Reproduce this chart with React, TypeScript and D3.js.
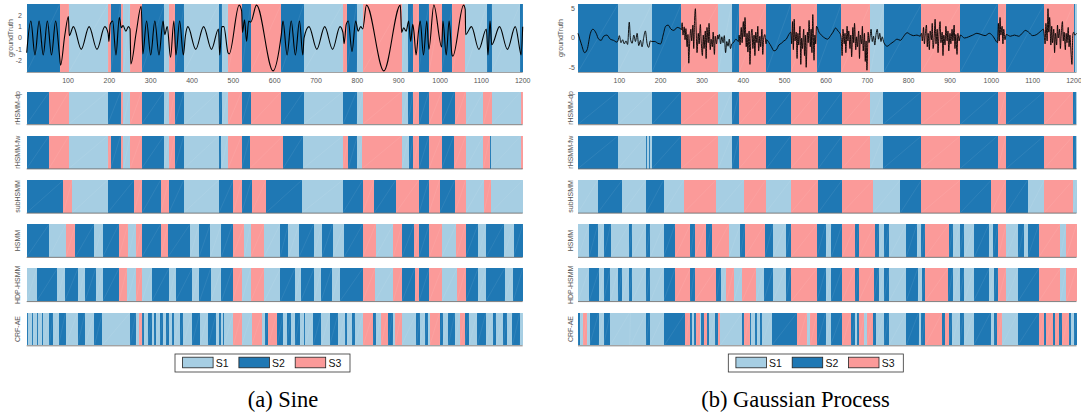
import React from "react";
import * as d3 from "d3";

// [start, end, state]  state: 1 = S1, 2 = S2, 3 = S3
type Seg = [number, number, number];
type Pt = [number, number];

const stateNames = ["S1", "S2", "S3"];
const stateColors = ["#a6cee3", "#1f78b4", "#fb9a99"];
const modelNames = ["rHSMM-dp", "rHSMM-fw", "subHSMM", "HSMM", "HDP-HSMM", "CRF-AE"];
const xTicks = [100, 200, 300, 400, 500, 600, 700, 800, 900, 1000, 1100, 1200];
const sineYTicks = [-2, -1, 0, 1, 2];
const gpYTicks = [-5, 0, 5];

/* ---------- (a) Sine ---------- */
const sineTruth: Seg[] = [
  [0, 80.5, 2], [80.5, 102, 3], [102, 197, 1], [197, 203, 3], [203, 227, 2], [227, 234, 3],
  [234, 250, 1], [250, 278, 3], [278, 333, 2], [333, 344, 1], [344, 358, 3], [358, 381, 2],
  [381, 465, 1], [465, 472, 2], [472, 487, 1], [487, 520, 3], [520, 542, 2], [542, 616, 3],
  [616, 670, 2], [670, 765, 1], [765, 774, 3], [774, 798, 2], [798, 813, 1], [813, 907, 3],
  [907, 922, 1], [922, 935, 2], [935, 948, 3], [948, 973, 2], [973, 1004, 3], [1004, 1030, 2],
  [1030, 1061, 3], [1061, 1114, 1], [1114, 1125, 2], [1125, 1194, 1], [1194, 1200, 2],
];

const sineSignal: Pt[] = [
  [0, -1.3], [10, 1.5], [20, -1.5], [30, 1.5], [40, -1.5], [50, 1.5], [60, -1.5], [70, 1.5],
  [79, -1.4], [82, -2.4], [92, 0.2], [101, 1.9], [103, 0.2], [113, 1], [132, -1], [151, 1],
  [170, -1], [189, 1], [197, 0.4], [199, -0.3], [202, 1.2], [208, 1.5], [216, -1.5], [224, 1.8],
  [229, 0.9], [233, 1.1], [240, 0.6], [246, 1.0], [250, 0.8], [252, -2.3], [265, 0.5], [277, 2.8],
  [281, -1.4], [290, 1.5], [300, -1.5], [310, 1.5], [320, -1.5], [330, 1.5], [334, 0.3], [340, 1.0],
  [348, -1.7], [356, 1.5], [361, -1.5], [370, 1.5], [379, -1.5], [384, 0.2], [390, 1], [409, -1],
  [428, 1], [447, -1], [464, 0.8], [467, -1.5], [472, 1.0], [477, 1.0], [487, -1.3], [490, -1.4],
  [514, 2.9], [520, 2.4], [522, 0.5], [527, 1.6], [532, -0.3], [537, 1.5], [542, 1.4], [556, 2.9],
  [596, -2.9], [616, 0.3], [620, 1.5], [630, -1.5], [640, 1.5], [650, -1.5], [660, 1.5], [668, -1.5],
  [671, 0], [683, 1], [702, -1], [721, 1], [740, -1], [758, 1], [765, 0.5], [768, -0.5], [773, 1.2],
  [778, 1.5], [787, -1.2], [796, 1.5], [802, 0.6], [808, 1.0], [813, 0.8], [822, 2.9], [864, -2.9],
  [904, 2.9], [907, 0.5], [912, 0.9], [918, 0.6], [924, 1.5], [929, -0.3], [934, 1.2], [937, 0.5],
  [942, -1.5], [948, 0.6], [952, 1.5], [960, -1.5], [968, 1.5], [973, -1.0], [985, 2.9], [1004, -0.8],
  [1007, 1.5], [1015, -1.5], [1022, 1.5], [1029, -1.5], [1031, -1.6], [1057, 2.9], [1061, 2.5],
  [1062, 0.3], [1076, 1], [1094, -1], [1112, 0.8], [1116, -1.5], [1121, 1.5], [1125, -0.6],
  [1144, 1], [1163, -1], [1182, 1], [1194, -1.2], [1196, -1.5], [1200, 1],
];

const sineDp: Seg[] = [
  [0, 55, 2], [55, 102, 3], [102, 196, 1], [196, 227, 2], [227, 234, 3], [234, 250, 1],
  [250, 278, 3], [278, 332, 2], [332, 344, 1], [344, 358, 3], [358, 381, 2], [381, 465, 1],
  [465, 472, 2], [472, 487, 1], [487, 520, 3], [520, 542, 2], [542, 616, 3], [616, 670, 2],
  [670, 765, 1], [765, 798, 2], [798, 813, 1], [813, 907, 3], [907, 922, 1], [922, 935, 2],
  [935, 949, 3], [949, 973, 2], [973, 1004, 3], [1004, 1035, 2], [1035, 1062, 3], [1062, 1105, 1],
  [1105, 1125, 3], [1125, 1195, 1], [1195, 1200, 3],
];

const sineFw: Seg[] = [
  [0, 54, 2], [54, 102, 3], [102, 196, 1], [196, 203, 3], [203, 227, 2], [227, 234, 3],
  [234, 250, 1], [250, 278, 3], [278, 332, 2], [332, 344, 1], [344, 358, 3], [358, 380, 2],
  [380, 465, 1], [465, 471, 2], [471, 487, 1], [487, 520, 3], [520, 540, 2], [540, 620, 3],
  [620, 669, 2], [669, 765, 1], [765, 778, 3], [778, 800, 2], [800, 812, 1], [812, 907, 3],
  [907, 924, 1], [924, 935, 2], [935, 949, 3], [949, 973, 2], [973, 1004, 3], [1004, 1033, 2],
  [1033, 1062, 3], [1062, 1105, 1], [1105, 1120, 3], [1120, 1123, 2], [1123, 1195, 1], [1195, 1200, 3],
];

const sineSub: Seg[] = [
  [0, 89, 2], [89, 110, 3], [110, 196, 1], [196, 260, 2], [260, 279, 3], [279, 324, 2],
  [324, 344, 3], [344, 380, 2], [380, 465, 1], [465, 500, 2], [500, 520, 3], [520, 544, 2],
  [544, 579, 3], [579, 666, 2], [666, 765, 1], [765, 813, 2], [813, 841, 3], [841, 893, 2],
  [893, 949, 3], [949, 973, 2], [973, 999, 3], [999, 1036, 2], [1036, 1062, 3], [1062, 1106, 1],
  [1106, 1123, 3], [1123, 1200, 1],
];

const sineHsmm: Seg[] = [
  [0, 54, 2], [54, 95, 1], [95, 118, 3], [118, 163, 2], [163, 184, 1], [184, 223, 2],
  [223, 245, 3], [245, 264, 1], [264, 279, 3], [279, 324, 2], [324, 342, 3], [342, 395, 2],
  [395, 417, 1], [417, 444, 2], [444, 471, 1], [471, 498, 2], [498, 526, 3], [526, 542, 1],
  [542, 574, 3], [574, 613, 1], [613, 633, 2], [633, 659, 1], [659, 694, 2], [694, 714, 1],
  [714, 740, 2], [740, 768, 1], [768, 813, 2], [813, 844, 3], [844, 887, 1], [887, 908, 3],
  [908, 937, 2], [937, 949, 3], [949, 974, 2], [974, 1004, 3], [1004, 1039, 1], [1039, 1062, 3],
  [1062, 1092, 2], [1092, 1112, 1], [1112, 1154, 2], [1154, 1178, 1], [1178, 1200, 2],
];

const sineHdp: Seg[] = [
  [0, 24, 1], [24, 74, 2], [74, 92, 1], [92, 124, 2], [124, 141, 1], [141, 167, 2],
  [167, 184, 1], [184, 223, 2], [223, 243, 3], [243, 264, 1], [264, 279, 3], [279, 303, 1],
  [303, 344, 2], [344, 360, 1], [360, 400, 2], [400, 418, 1], [418, 445, 2], [445, 471, 1],
  [471, 498, 2], [498, 520, 3], [520, 542, 1], [542, 575, 3], [575, 614, 1], [614, 649, 2],
  [649, 663, 1], [663, 695, 2], [695, 712, 1], [712, 738, 2], [738, 758, 1], [758, 813, 2],
  [813, 843, 3], [843, 887, 1], [887, 908, 3], [908, 939, 2], [939, 949, 3], [949, 974, 2],
  [974, 1004, 3], [1004, 1041, 1], [1041, 1062, 3], [1062, 1092, 2], [1092, 1111, 1],
  [1111, 1156, 2], [1156, 1177, 1], [1177, 1200, 2],
];

const sineCrf: Seg[] = [
  [0, 2, 2], [2, 14, 1], [14, 16, 2], [16, 24, 1], [24, 27, 2], [27, 36, 1], [36, 40, 2],
  [40, 55, 1], [55, 64, 2], [64, 77, 1], [77, 94, 2], [94, 123, 1], [123, 141, 2], [141, 164, 1],
  [164, 183, 2], [183, 250, 1], [250, 264, 2], [264, 272, 1], [272, 278, 3], [278, 280, 1],
  [280, 284, 2], [284, 293, 1], [293, 303, 2], [303, 308, 1], [308, 314, 2], [314, 322, 1],
  [322, 329, 2], [329, 336, 1], [336, 345, 2], [345, 352, 1], [352, 356, 2], [356, 371, 1],
  [371, 379, 2], [379, 399, 1], [399, 419, 2], [419, 439, 1], [439, 459, 2], [459, 465, 1],
  [465, 471, 2], [471, 474, 1], [474, 477, 2], [477, 500, 1], [500, 520, 3], [520, 544, 1],
  [544, 570, 3], [570, 576, 1], [576, 584, 2], [584, 606, 3], [606, 621, 2], [621, 629, 1],
  [629, 639, 2], [639, 649, 1], [649, 661, 2], [661, 671, 1], [671, 674, 2], [674, 693, 1],
  [693, 713, 2], [713, 733, 1], [733, 754, 2], [754, 770, 1], [770, 775, 2], [775, 786, 1],
  [786, 794, 2], [794, 814, 1], [814, 838, 3], [838, 845, 2], [845, 857, 1], [857, 874, 3],
  [874, 885, 2], [885, 891, 1], [891, 907, 3], [907, 943, 1], [943, 951, 2], [951, 963, 1],
  [963, 971, 2], [971, 975, 1], [975, 999, 3], [999, 1006, 2], [1006, 1020, 1], [1020, 1036, 2],
  [1036, 1048, 1], [1048, 1060, 3], [1060, 1070, 2], [1070, 1090, 1], [1090, 1111, 2],
  [1111, 1127, 1], [1127, 1136, 2], [1136, 1153, 1], [1153, 1162, 2], [1162, 1175, 1],
  [1175, 1193, 2], [1193, 1200, 1],
];

/* ---------- (b) Gaussian Process ---------- */
const gpTruth: Seg[] = [
  [0, 97, 2], [97, 179, 1], [179, 250, 2], [250, 339, 3], [339, 372, 1], [372, 390, 2],
  [390, 456, 3], [456, 515, 2], [515, 577, 3], [577, 637, 2], [637, 707, 3], [707, 740, 1],
  [740, 831, 2], [831, 925, 3], [925, 1015, 2], [1015, 1036, 3], [1036, 1128, 2], [1128, 1199, 3],
  [1199, 1202, 2], [1202, 1206, 1],
];

const gpSignal: Pt[] = [
  [0, 0.8], [8, -1.0], [16, -2.5], [22, -2.0], [30, 0.8], [36, 1.5], [44, 0.8], [50, -0.2],
  [56, -0.4], [62, 0.3], [70, 0.5], [78, -0.2], [86, -0.4], [94, -0.7],
  [97, -0.4], [100, 0.4], [104, -0.8], [108, -0.3], [112, -1.0], [116, -0.5], [120, -1.1],
  [124, 2.7], [127, -0.2], [131, -0.9], [135, 0.5], [139, -0.6], [143, 0.8], [147, -1.3],
  [151, -0.4], [155, -1.5], [159, 0.1], [163, 1.2], [167, -0.9], [171, -1.6], [175, -0.5],
  [179, -0.6], [186, -0.6], [193, -0.9], [200, -1.0], [206, 0.5], [212, 2.0], [218, 2.2],
  [225, 1.5], [232, 1.3], [240, 1.8], [248, 1.6],
  [250, 1.4], [252, 2.6], [254, 0.5], [257, 1.9], [259, -0.3], [261, 1.6], [264, -1.5], [266, 0.6],
  [268, -4.3], [270, -1.0], [273, 1.5], [275, -0.5], [278, 2.2], [280, -1.8], [282, 3.0], [284, 5.0],
  [286, 1.0], [288, -2.5], [291, 0.8], [293, -1.0], [296, 2.3], [298, -0.5], [301, -3.0], [303, 0.5],
  [305, -1.8], [308, 1.2], [310, -3.5], [312, 1.8], [315, -0.8], [317, 2.5], [320, -2.0], [322, -0.2],
  [325, -1.5], [327, 1.0], [330, -2.8], [332, 0.3], [335, -1.0], [338, 0.5],
  [339, -0.2], [342, 0.6], [345, -1.0], [348, 0.2], [351, -0.8], [354, 0.4], [357, -2.5], [360, -0.6],
  [363, -1.4], [366, -0.2], [369, -1.8], [372, -1.0], [376, -0.8], [382, -0.2], [388, -0.6],
  [390, 0.5], [392, -1.2], [395, 1.8], [397, -0.8], [400, 2.8], [402, 0.2], [404, 3.5], [407, -1.5],
  [409, 0.8], [411, -2.4], [414, 1.2], [416, -4.5], [418, -0.5], [421, 1.5], [423, -1.8], [426, 0.5],
  [428, -3.0], [430, 1.0], [433, -0.8], [435, 2.0], [437, -2.2], [440, 0.3], [442, -1.5], [445, 1.5],
  [447, -2.8], [449, -0.2], [452, 0.6], [455, -1.0],
  [456, -0.3], [462, -0.8], [468, -1.5], [474, -2.2], [480, -2.0], [486, -1.2], [492, -0.9],
  [498, -0.5], [504, -0.2], [510, 0.6], [515, 1.0],
  [517, -1.0], [519, 2.8], [521, -2.0], [523, 3.2], [525, -0.5], [528, 1.0], [530, -3.5], [532, 0.8],
  [534, -1.2], [537, 2.0], [539, -4.5], [541, 0.0], [543, -1.8], [546, 1.5], [548, -3.0], [550, 0.5],
  [552, -5.0], [555, 1.0], [557, -0.8], [559, 3.0], [562, -1.5], [564, 1.5], [566, -2.5], [568, 4.0],
  [571, -3.8], [573, 0.5], [575, -1.0], [577, 2.0],
  [583, 1.0], [590, 0.4], [597, 0.0], [604, -0.2], [611, 0.4], [617, 1.0], [623, 1.7], [629, 1.2],
  [635, 0.6],
  [637, -0.3], [639, -3.0], [641, 1.5], [644, -1.0], [646, 0.8], [648, -2.5], [651, 2.0], [653, -0.5],
  [655, 1.2], [658, -1.8], [660, 0.5], [662, -3.2], [665, 1.8], [667, -0.8], [669, 2.5], [672, -2.0],
  [674, 0.2], [676, -1.5], [679, 1.2], [681, -3.5], [683, 0.5], [686, -1.0], [688, 2.0], [690, -2.2],
  [693, 0.8], [695, -4.0], [697, -0.5], [699, -5.5], [702, 1.0], [704, -0.8], [707, 0.5],
  [709, 1.5], [712, -0.6], [715, 0.3], [718, -1.2], [721, 0.6], [724, 1.5], [727, -0.2], [730, 0.8],
  [733, -0.6], [736, 0.2], [740, -0.8],
  [748, -1.4], [756, -1.0], [764, -0.6], [772, -0.2], [780, -0.4], [788, 0.3], [796, 0.9],
  [804, 0.6], [812, 0.4], [820, 0.5], [828, 0.3],
  [831, 0.8], [833, -0.5], [836, 1.8], [838, -1.0], [840, 0.5], [843, 2.2], [845, -1.5], [847, 0.8],
  [850, -2.0], [852, 1.2], [855, -0.3], [857, 2.5], [859, -1.8], [862, 0.5], [864, 3.2], [866, -1.0],
  [869, 1.5], [871, -2.5], [873, 0.2], [876, 2.8], [878, -0.8], [881, 1.0], [883, -3.0], [885, 0.5],
  [888, -1.2], [890, 2.0], [893, -0.5], [895, 1.2], [897, -2.2], [900, 0.8], [902, -1.0], [905, 1.5],
  [907, -0.5], [910, 2.2], [912, -1.8], [914, 0.6], [917, -2.8], [919, 0.8], [922, -0.5], [925, 0.5],
  [935, 0.0], [945, 0.2], [955, 0.5], [965, 0.8], [975, 0.6], [985, 0.4], [995, 0.8], [1005, 0.2],
  [1012, -0.6],
  [1015, -0.8], [1017, 2.5], [1019, -0.5], [1021, 3.5], [1023, 0.5], [1026, 2.0], [1028, -1.0],
  [1030, 1.5], [1033, -0.3], [1036, 0.6],
  [1046, 0.3], [1056, 0.5], [1066, 0.3], [1076, 0.9], [1082, 1.3], [1090, 1.0], [1100, 0.4],
  [1110, 0.6], [1120, 1.2], [1126, 1.5],
  [1128, 0.5], [1130, -1.0], [1132, 2.5], [1135, -0.5], [1137, 5.0], [1139, 1.0], [1141, 3.5],
  [1144, -1.2], [1146, 2.0], [1148, -0.8], [1151, 1.5], [1153, -2.5], [1155, 0.8], [1158, -1.2],
  [1160, 2.2], [1162, 0.0], [1165, 1.5], [1167, -1.8], [1169, 0.5], [1172, 2.8], [1174, -0.5],
  [1176, 1.0], [1179, -2.0], [1181, 0.8], [1183, -0.8], [1186, 1.8], [1188, -1.5], [1190, 0.5],
  [1193, -2.8], [1195, -4.5], [1197, 0.5], [1199, 1.0], [1202, 0.5], [1206, 0.8],
];

const gpDp: Seg[] = [
  [0, 97, 2], [97, 179, 1], [179, 250, 2], [250, 339, 3], [339, 372, 1], [372, 390, 2],
  [390, 456, 3], [456, 515, 2], [515, 581, 3], [581, 639, 2], [639, 707, 3], [707, 738, 1],
  [738, 831, 2], [831, 925, 3], [925, 1015, 2], [1015, 1036, 3], [1036, 1128, 2], [1128, 1198, 3],
  [1198, 1205, 2], [1205, 1206, 1],
];

const gpFw: Seg[] = [
  [0, 97, 2], [97, 165, 1], [165, 167, 2], [167, 172, 1], [172, 174, 2], [174, 179, 1],
  [179, 250, 2], [250, 339, 3], [339, 372, 1], [372, 390, 2], [390, 456, 3], [456, 515, 2],
  [515, 581, 3], [581, 639, 2], [639, 707, 3], [707, 738, 1], [738, 831, 2], [831, 925, 3],
  [925, 1015, 2], [1015, 1036, 3], [1036, 1128, 2], [1128, 1198, 3], [1198, 1205, 2], [1205, 1206, 1],
];

const gpSub: Seg[] = [
  [0, 48, 1], [48, 107, 2], [107, 165, 1], [165, 207, 2], [207, 256, 1], [256, 334, 3],
  [334, 401, 1], [401, 454, 3], [454, 515, 1], [515, 581, 3], [581, 639, 2], [639, 714, 3],
  [714, 780, 1], [780, 831, 2], [831, 925, 3], [925, 1000, 2], [1000, 1036, 3], [1036, 1088, 2],
  [1088, 1128, 1], [1128, 1198, 3], [1198, 1206, 1],
];

const gpHsmm: Seg[] = [
  [0, 27, 1], [27, 48, 2], [48, 62, 1], [62, 79, 2], [79, 123, 1], [123, 131, 2], [131, 165, 1],
  [165, 175, 2], [175, 207, 1], [207, 235, 2], [235, 272, 3], [272, 282, 2], [282, 310, 3],
  [310, 323, 2], [323, 365, 3], [365, 393, 1], [393, 404, 2], [404, 452, 3], [452, 472, 2],
  [472, 502, 1], [502, 516, 2], [516, 578, 3], [578, 599, 2], [599, 613, 1], [613, 639, 2],
  [639, 671, 3], [671, 679, 2], [679, 718, 3], [718, 728, 2], [728, 740, 1], [740, 753, 2],
  [753, 794, 1], [794, 820, 2], [820, 831, 1], [831, 840, 2], [840, 897, 3], [897, 907, 2],
  [907, 923, 1], [923, 935, 2], [935, 959, 1], [959, 994, 2], [994, 1004, 1], [1004, 1016, 2],
  [1016, 1036, 3], [1036, 1065, 1], [1065, 1080, 2], [1080, 1088, 1], [1088, 1115, 2],
  [1115, 1167, 3], [1167, 1181, 1], [1181, 1206, 3],
];

const gpHdp: Seg[] = [
  [0, 27, 1], [27, 52, 2], [52, 62, 1], [62, 78, 2], [78, 97, 1], [97, 106, 2], [106, 123, 1],
  [123, 131, 2], [131, 165, 1], [165, 175, 2], [175, 207, 1], [207, 235, 2], [235, 272, 3],
  [272, 282, 2], [282, 334, 3], [334, 346, 2], [346, 359, 1], [359, 377, 3], [377, 397, 1],
  [397, 431, 3], [431, 449, 1], [449, 472, 2], [472, 502, 1], [502, 516, 2], [516, 578, 3],
  [578, 600, 2], [600, 612, 1], [612, 639, 2], [639, 671, 3], [671, 679, 2], [679, 715, 3],
  [715, 728, 2], [728, 740, 1], [740, 753, 2], [753, 794, 1], [794, 822, 2], [822, 832, 1],
  [832, 840, 2], [840, 895, 3], [895, 907, 2], [907, 923, 1], [923, 935, 2], [935, 957, 1],
  [957, 995, 2], [995, 1006, 1], [1006, 1016, 2], [1016, 1036, 3], [1036, 1065, 1],
  [1065, 1115, 2], [1115, 1167, 3], [1167, 1181, 1], [1181, 1206, 3],
];

const gpCrf: Seg[] = [
  [0, 6, 2], [6, 12, 1], [12, 22, 3], [22, 28, 1], [28, 50, 2], [50, 62, 1], [62, 78, 2],
  [78, 125, 1], [125, 127, 3], [127, 165, 1], [165, 173, 2], [173, 209, 1], [209, 260, 2],
  [260, 270, 3], [270, 276, 2], [276, 281, 1], [281, 286, 2], [286, 294, 3], [294, 298, 1],
  [298, 304, 2], [304, 312, 3], [312, 316, 2], [316, 332, 1], [332, 338, 2], [338, 344, 3],
  [344, 397, 1], [397, 402, 2], [402, 415, 3], [415, 419, 2], [419, 429, 1], [429, 433, 2],
  [433, 440, 1], [440, 445, 2], [445, 469, 1], [469, 530, 2], [530, 554, 3], [554, 562, 1],
  [562, 578, 3], [578, 599, 2], [599, 611, 1], [611, 639, 2], [639, 661, 3], [661, 671, 2],
  [671, 675, 1], [675, 679, 2], [679, 693, 3], [693, 699, 1], [699, 713, 3], [713, 721, 2],
  [721, 740, 1], [740, 752, 2], [752, 794, 1], [794, 824, 2], [824, 831, 1], [831, 840, 2],
  [840, 881, 3], [881, 889, 2], [889, 897, 3], [897, 905, 2], [905, 923, 1], [923, 933, 2],
  [933, 957, 1], [957, 998, 2], [998, 1006, 1], [1006, 1014, 2], [1014, 1026, 3], [1026, 1064, 1],
  [1064, 1115, 2], [1115, 1127, 3], [1127, 1132, 2], [1132, 1149, 3], [1149, 1155, 2],
  [1155, 1163, 3], [1163, 1171, 2], [1171, 1187, 3], [1187, 1193, 2], [1193, 1199, 1],
  [1199, 1206, 2],
];

/* ---------- layout ---------- */
const W = 1081;
const H = 412;
const truthTop = 4;
const truthBottom = 72;
const rowTop0 = 91.6;
const rowPitch = 44.22;
const rowH = 32.7;
const sans = "'Liberation Sans', Arial, Helvetica, sans-serif";
const grey = "#555";

interface PanelProps {
  left: number;
  right: number;
  tMax: number;
  yDomain: [number, number];
  yTicks: number[];
  truth: Seg[];
  signal: Pt[];
  lineWidth: number;
  rows: Seg[][];
  labelX: number;
  rowLabelX: number;
  yTickX: number;
  legendX: number;
  caption: string;
  captionX: number;
}

const SegStrip: React.FC<{ segs: Seg[]; x: d3.ScaleLinear<number, number>; top: number; bottom: number }> = ({
  segs,
  x,
  top,
  bottom,
}) => (
  <g>
    {segs.map((s, i) => (
      <rect
        key={i}
        x={x(s[0])}
        y={top}
        width={Math.max(0.3, x(s[1]) - x(s[0]))}
        height={bottom - top}
        fill={stateColors[s[2] - 1]}
        shapeRendering="crispEdges"
      />
    ))}
    {segs.map((s, i) => (
      <line
        key={"d" + i}
        x1={x(s[0])}
        y1={bottom}
        x2={x(s[1])}
        y2={top}
        stroke="#fff"
        strokeOpacity={0.14}
        strokeWidth={0.5}
      />
    ))}
  </g>
);

const Panel: React.FC<PanelProps> = (p) => {
  const x = d3.scaleLinear().domain([0, p.tMax]).range([p.left, p.right]);
  const y = d3.scaleLinear().domain(p.yDomain).range([truthBottom, truthTop]);
  const line = d3
    .line<Pt>()
    .x((d) => x(d[0]))
    .y((d) => y(d[1]))
    .curve(d3.curveMonotoneX);

  const legendW = 175;
  const legendH = 18;
  const legendY = 354;

  return (
    <g>
      {/* ground truth */}
      <SegStrip segs={p.truth} x={x} top={truthTop} bottom={truthBottom} />
      <path d={line(p.signal) || ""} fill="none" stroke="#000" strokeWidth={p.lineWidth} strokeLinejoin="round" />
      <line x1={p.left} x2={p.right} y1={truthBottom + 0.5} y2={truthBottom + 0.5} stroke="#8a8a8a" strokeWidth={0.8} />
      {xTicks.map((t) => (
        <text key={t} x={x(t)} y={83} fontSize={7} fill={grey} textAnchor="middle" fontFamily={sans}>
          {t}
        </text>
      ))}
      {p.yTicks.map((t) => (
        <text key={t} x={p.yTickX} y={y(t)} dy="0.35em" fontSize={7} fill={grey} textAnchor="end" fontFamily={sans}>
          {t}
        </text>
      ))}
      <text
        transform={`translate(${p.labelX},${(truthTop + truthBottom) / 2}) rotate(-90)`}
        fontSize={7}
        fill={grey}
        textAnchor="middle"
        fontFamily={sans}
      >
        groundTruth
      </text>

      {/* model rows */}
      {p.rows.map((segs, r) => {
        const top = rowTop0 + r * rowPitch;
        const bottom = top + rowH;
        return (
          <g key={r}>
            <SegStrip segs={segs} x={x} top={top} bottom={bottom} />
            <line x1={p.left} x2={p.right} y1={bottom + 0.4} y2={bottom + 0.4} stroke="#6e6e6e" strokeWidth={0.9} />
            <text
              transform={`translate(${p.rowLabelX},${(top + bottom) / 2}) rotate(-90)`}
              fontSize={7}
              fill={grey}
              textAnchor="middle"
              fontFamily={sans}
            >
              {modelNames[r]}
            </text>
          </g>
        );
      })}

      {/* legend */}
      <rect x={p.legendX} y={legendY} width={legendW} height={legendH} fill="#fff" stroke="#333" strokeWidth={0.8} />
      {stateNames.map((n, i) => (
        <g key={n}>
          <rect
            x={p.legendX + 7.6 + i * 56.3}
            y={legendY + 3.2}
            width={30.5}
            height={10.6}
            fill={stateColors[i]}
            stroke="#222"
            strokeWidth={0.8}
          />
          <text x={p.legendX + 40.8 + i * 56.3} y={legendY + 12.6} fontSize={10.5} fill="#111" fontFamily={sans}>
            {n}
          </text>
        </g>
      ))}

      {/* caption */}
      <text x={p.captionX} y={407} fontSize={22.5} fill="#000" textAnchor="middle" fontFamily="'Liberation Serif', 'Times New Roman', serif">
        {p.caption}
      </text>
    </g>
  );
};

export default function App() {
  return (
    <svg
      width={W}
      height={H}
      viewBox={`0 0 ${W} ${H}`}
      style={{ position: "absolute", left: 0, top: 0, display: "block", background: "#fff" }}
    >
      <rect width={W} height={H} fill="#fff" />
      <Panel
        left={26.7}
        right={522.7}
        tMax={1200}
        yDomain={[-3, 3]}
        yTicks={sineYTicks}
        truth={sineTruth}
        signal={sineSignal}
        lineWidth={1.1}
        rows={[sineDp, sineFw, sineSub, sineHsmm, sineHdp, sineCrf]}
        labelX={12.5}
        rowLabelX={19.5}
        yTickX={22}
        legendX={175}
        caption="(a) Sine"
        captionX={283}
      />
      <Panel
        left={578}
        right={1076.5}
        tMax={1206}
        yDomain={[-5.8, 5.8]}
        yTicks={gpYTicks}
        truth={gpTruth}
        signal={gpSignal}
        lineWidth={0.9}
        rows={[gpDp, gpFw, gpSub, gpHsmm, gpHdp, gpCrf]}
        labelX={563}
        rowLabelX={572.5}
        yTickX={575}
        legendX={728.3}
        caption="(b) Gaussian Process"
        captionX={795.5}
      />
    </svg>
  );
}
